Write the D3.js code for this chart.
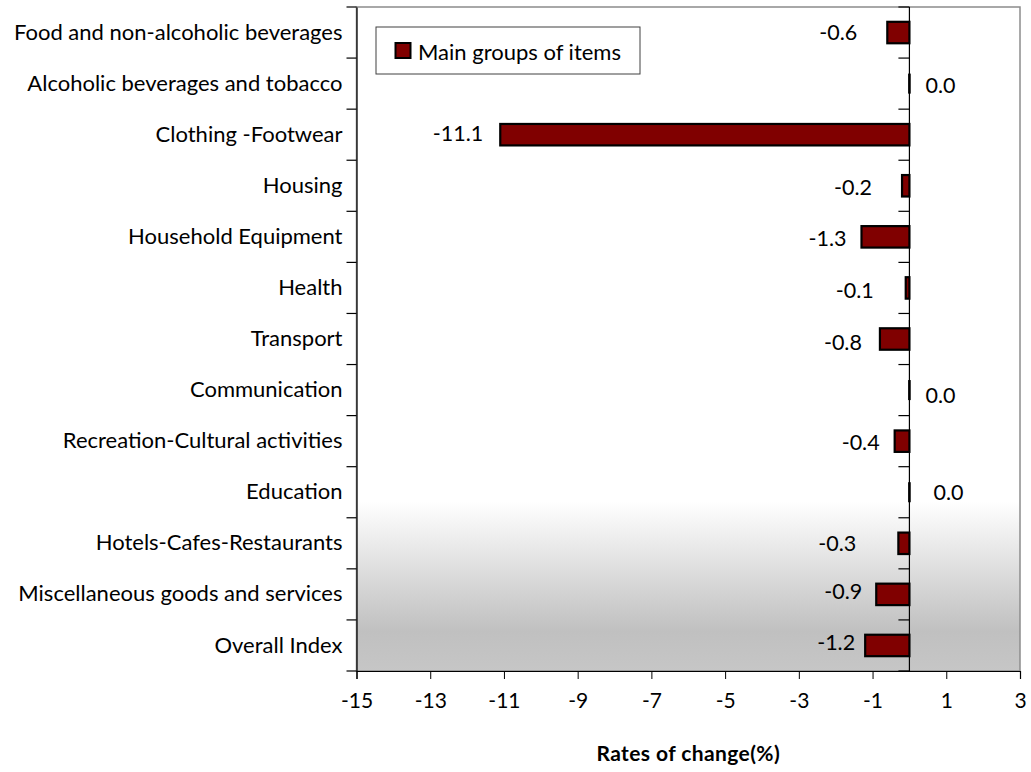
<!DOCTYPE html>
<html>
<head>
<meta charset="utf-8">
<script src="https://cdn.jsdelivr.net/npm/d3@7"></script>
<style>
  html, body { margin: 0; padding: 0; background: #fff; }
  svg { display: block; font-family: Lato, "Open Sans", sans-serif; }
</style>
</head>
<body>
<svg id="chart" width="1031" height="772"></svg>
<script>
// Monthly rates of change by main group of items (%)
const categories = [
  "Food and non-alcoholic beverages",
  "Alcoholic beverages and tobacco",
  "Clothing -Footwear",
  "Housing",
  "Household Equipment",
  "Health",
  "Transport",
  "Communication",
  "Recreation-Cultural activities",
  "Education",
  "Hotels-Cafes-Restaurants",
  "Miscellaneous goods and services",
  "Overall Index"
];
const values = [-0.6, 0.0, -11.1, -0.2, -1.3, -0.1, -0.8, 0.0, -0.4, 0.0, -0.3, -0.9, -1.2];
const xTicks = [-15, -13, -11, -9, -7, -5, -3, -1, 1, 3];
const seriesName = "Main groups of items";
const axisTitle = "Rates of change(%)";

// Hand-placed label offsets (dx, dy) relative to the bar end
const labelNudge = [
  [-30, -1], [16, 1], [-17, -2], [-30, 1], [-15, 1], [-32, 2], [-18, 3],
  [16, 5], [-15, 1], [24, 0], [-42, 0], [-14, -3], [-10, -3]
];

const svg = d3.select("#chart");
const plot = { left: 356.5, right: 1020, top: 7, bottom: 671 };

const x = d3.scaleLinear().domain([-15, 3]).range([plot.left, plot.right]);
const y = d3.scaleBand().domain(categories).range([plot.top, plot.bottom]).paddingInner(0.58).paddingOuter(0.29);
const yCat = d3.scaleBand().domain(categories).range([plot.top, plot.bottom]);

// Background gradient of the plot area
const defs = svg.append("defs");
const grad = defs.append("linearGradient").attr("id", "bg").attr("x1", 0).attr("y1", 0).attr("x2", 0).attr("y2", 1);
grad.append("stop").attr("offset", 0).attr("stop-color", "#ffffff");
grad.append("stop").attr("offset", 0.745).attr("stop-color", "#ffffff");
grad.append("stop").attr("offset", 0.94).attr("stop-color", "#c0c0c0");
grad.append("stop").attr("offset", 1).attr("stop-color", "#c6c6c6");

svg.append("rect")
  .attr("x", plot.left).attr("y", plot.top)
  .attr("width", plot.right - plot.left).attr("height", plot.bottom - plot.top)
  .attr("fill", "url(#bg)")
  .attr("stroke", "#8c8c8c").attr("stroke-width", 1.5);

// Bottom value axis
const xAxis = svg.append("g")
  .attr("transform", `translate(0,${plot.bottom})`)
  .call(d3.axisBottom(x).tickValues(xTicks).tickSize(8).tickPadding(14).tickFormat(d3.format("d")));
xAxis.select(".domain").attr("stroke", "#000").attr("stroke-width", 1.2);
xAxis.selectAll(".tick line").attr("stroke", "#000");
xAxis.selectAll(".tick text")
  .attr("font-size", 21).attr("fill", "#000")
  .attr("font-family", "Lato, sans-serif")
  .text(d => d < 0 ? "-" + Math.abs(d) : d);

// Left category axis (labels) with outward ticks at band boundaries
const yAxis = svg.append("g")
  .attr("transform", `translate(${plot.left},0)`)
  .call(d3.axisLeft(yCat).tickSize(0).tickPadding(14));
yAxis.select(".domain").attr("stroke", "#000").attr("stroke-width", 1.2);
yAxis.selectAll(".tick text")
  .attr("font-size", 22).attr("fill", "#000")
  .attr("font-family", "Lato, sans-serif");

const boundaries = d3.range(categories.length + 1).map(i => plot.top + i * yCat.step());
svg.append("g").selectAll("line").data(boundaries).join("line")
  .attr("x1", plot.left - 10).attr("x2", plot.left)
  .attr("y1", d => d).attr("y2", d => d)
  .attr("stroke", "#000").attr("stroke-width", 1.2);

// Zero line with its own ticks
svg.append("line")
  .attr("x1", x(0)).attr("x2", x(0))
  .attr("y1", plot.top).attr("y2", plot.bottom)
  .attr("stroke", "#000").attr("stroke-width", 1.2);
svg.append("g").selectAll("line").data(boundaries).join("line")
  .attr("x1", x(0) - 11).attr("x2", x(0))
  .attr("y1", d => d).attr("y2", d => d)
  .attr("stroke", "#000").attr("stroke-width", 1.2);

// Bars
const rows = categories.map((c, i) => ({ c, v: values[i], i }));
svg.append("g").selectAll("rect").data(rows).join("rect")
  .attr("x", d => Math.min(x(d.v), x(0)))
  .attr("y", d => y(d.c) + (d.v === 0 ? 2 : 0))
  .attr("width", d => Math.max(Math.abs(x(d.v) - x(0)), 0.01))
  .attr("height", d => y.bandwidth() - (d.v === 0 ? 4 : 0))
  .attr("fill", "#800000")
  .attr("stroke", "#000").attr("stroke-width", d => d.v === 0 ? 2.6 : 2.2);

// Value labels
svg.append("g").selectAll("text").data(rows).join("text")
  .attr("x", d => x(d.v) + labelNudge[d.i][0])
  .attr("y", d => y(d.c) + y.bandwidth() / 2 + labelNudge[d.i][1])
  .attr("text-anchor", d => d.v < 0 ? "end" : "start")
  .attr("dominant-baseline", "central")
  .attr("font-size", 21.5).attr("fill", "#000")
  .text(d => d3.format(".1f")(d.v).replace("−", "-"));

// Legend
const lg = svg.append("g").attr("transform", "translate(376,27)");
lg.append("rect").attr("width", 264).attr("height", 47)
  .attr("fill", "#fff").attr("stroke", "#404040").attr("stroke-width", 1);
lg.append("rect").attr("x", 19.5).attr("y", 16).attr("width", 15).attr("height", 15)
  .attr("fill", "#800000").attr("stroke", "#000").attr("stroke-width", 2);
lg.append("text").attr("x", 42).attr("y", 24).attr("dominant-baseline", "central")
  .attr("font-size", 22).attr("fill", "#000").text(seriesName);

// Axis title
svg.append("text")
  .attr("x", (plot.left + plot.right) / 2).attr("y", 752)
  .attr("text-anchor", "middle").attr("dominant-baseline", "central")
  .attr("font-size", 21).attr("font-weight", "bold").attr("letter-spacing", 0.4).attr("fill", "#000")
  .text(axisTitle);
</script>
</body>
</html>
